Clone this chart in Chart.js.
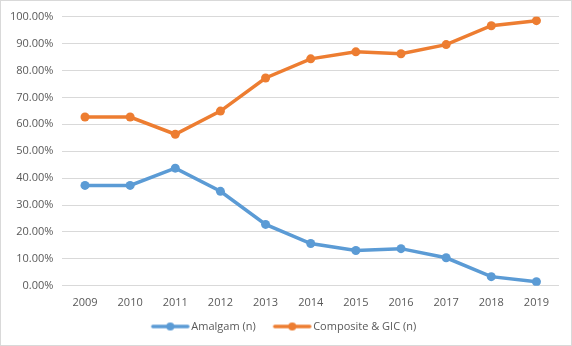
<!DOCTYPE html>
<html><head><meta charset="utf-8">
<script src="https://cdn.jsdelivr.net/npm/chart.js@4"></script>
<style>
html,body{margin:0;padding:0;background:#fff;}
#wrap{position:absolute;left:0;top:0;width:570px;height:344px;border:1px solid #d9d9d9;}
</style></head><body>
<div id="wrap"><canvas id="c" width="570" height="344"></canvas></div>
<script>
const categories = ['2009','2010','2011','2012','2013','2014','2015','2016','2017','2018','2019'];
const amalgam = [37.3, 37.3, 43.7, 35.1, 22.8, 15.7, 13.1, 13.8, 10.4, 3.4, 1.5];
const composite = [62.7, 62.7, 56.3, 64.9, 77.2, 84.3, 86.9, 86.2, 89.6, 96.6, 98.5];
const seriesNames = ['Amalgam (n)', 'Composite & GIC (n)'];
const colors = ['#5B9BD5', '#ED7D31'];

function legendIcon(color){
  const cv = document.createElement('canvas');
  cv.width = 62; cv.height = 10;
  const g = cv.getContext('2d');
  g.strokeStyle = color; g.lineWidth = 3.5; g.lineCap='round';
  g.beginPath(); g.moveTo(19,5); g.lineTo(54,5); g.stroke();
  g.fillStyle = color; g.beginPath(); g.arc(36.5,5,4,0,Math.PI*2); g.fill();
  return cv;
}
const icons = colors.map(legendIcon);

Chart.defaults.font.family = "'Open Sans', 'Liberation Sans', sans-serif";
Chart.defaults.font.size = 11;
Chart.defaults.color = '#595959';

new Chart(document.getElementById('c'), {
  type: 'line',
  data: {
    labels: categories,
    datasets: [
      {label: seriesNames[0], data: amalgam, borderColor: colors[0], backgroundColor: colors[0], borderWidth: 3.5, pointRadius: 4.5, pointBackgroundColor: colors[0], pointBorderWidth: 0, tension: 0},
      {label: seriesNames[1], data: composite, borderColor: colors[1], backgroundColor: colors[1], borderWidth: 3.5, pointRadius: 4.5, pointBackgroundColor: colors[1], pointBorderWidth: 0, tension: 0}
    ]
  },
  options: {
    responsive: false,
    animation: false,
    layout: {padding: {left: 0, right: 12, top: 11, bottom: 3}},
    plugins: {
      tooltip: {enabled: false},
      legend: {
        position: 'bottom',
        labels: {
          usePointStyle: true,
          pointStyleWidth: 42,
          padding: 10,
          font: {size: 11},
          color: '#595959',
          generateLabels: (chart) => chart.data.datasets.map((ds, i) => ({
            text: ds.label, pointStyle: icons[i], fillStyle: colors[i], strokeStyle: colors[i],
            lineWidth: 0, hidden: false, datasetIndex: i, fontColor: '#595959'
          }))
        }
      }
    },
    scales: {
      x: {
        offset: true,
        grid: {display: false},
        border: {display: false},
        ticks: {padding: 2, maxRotation: 0}
      },
      y: {
        min: 0, max: 100,
        ticks: {stepSize: 10, padding: 9, callback: v => v.toFixed(2) + '%'},
        grid: {color: '#d9d9d9', drawTicks: false},
        border: {display: false}
      }
    }
  }
});
</script>
</body></html>
